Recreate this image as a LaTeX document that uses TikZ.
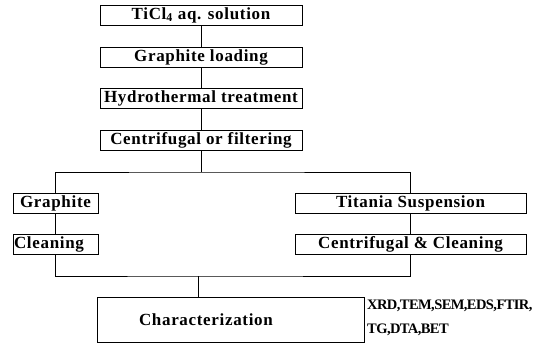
\documentclass[tikz,border=0pt]{standalone}
\usepackage{fontspec}
\setmainfont{Liberation Serif}[LetterSpace=4]
\usetikzlibrary{positioning}

\tikzset{
  procbox/.style={draw, line width=0.7pt, inner sep=0pt, minimum height=20pt,
    font=\fontsize{17}{19}\selectfont\bfseries},
  link/.style={line width=0.7pt}
}

\begin{document}
\begin{tikzpicture}[x=1pt, y=-1pt]
\useasboundingbox (0,0) rectangle (535,345);

\node[procbox, minimum width=202pt] (TiCl_sol) at (201, 15) {TiCl\textsubscript{4} aq. solution};
\node[procbox, minimum width=202pt] (G_load) at (201, 57) {Graphite loading};
\node[procbox, minimum width=202pt] (H_treat) at (201, 98) {Hydrothermal treatment};
\node[procbox, minimum width=202pt] (C_filter) at (201, 140) {Centrifugal or filtering};

\node[procbox, minimum width=85pt] (G_left) at (55.5, 203) {Graphite};
\node[procbox, minimum width=85pt, align=left, text width=83pt] (C_left) at (55.5, 244) {Cleaning};
\node[procbox, minimum width=231pt] (T_susp) at (410.5, 203) {Titania Suspension};
\node[procbox, minimum width=231pt] (C_right) at (410.5, 244) {Centrifugal \& Cleaning};

\node[procbox, minimum height=45pt, inner xsep=42pt, text width=183pt, align=left] (Charac) at (230.5, 319.5) {Characterization};
\node[anchor=west, align=left, inner sep=0pt,
  font=\fontsize{14.5}{24}\selectfont\bfseries\addfontfeature{LetterSpace=-4}] (Methods) at (367, 318)
  {XRD,TEM,SEM,EDS,FTIR,\\TG,DTA,BET};

\coordinate (split) at (201, 172);
\coordinate (merge) at (198, 276);

\draw[link] (TiCl_sol) to (G_load);
\draw[link] (G_load) to (H_treat);
\draw[link] (H_treat) to (C_filter);
\draw[link] (C_filter) to (split);
\draw[link] (G_left) |- (split) -| (T_susp);
\draw[link] (G_left) to (C_left);
\draw[link] (T_susp) to (C_right);
\draw[link] (C_left) |- (merge) -| (C_right);
\draw[link] (merge) to (merge |- Charac.north);

\end{tikzpicture}
\end{document}
